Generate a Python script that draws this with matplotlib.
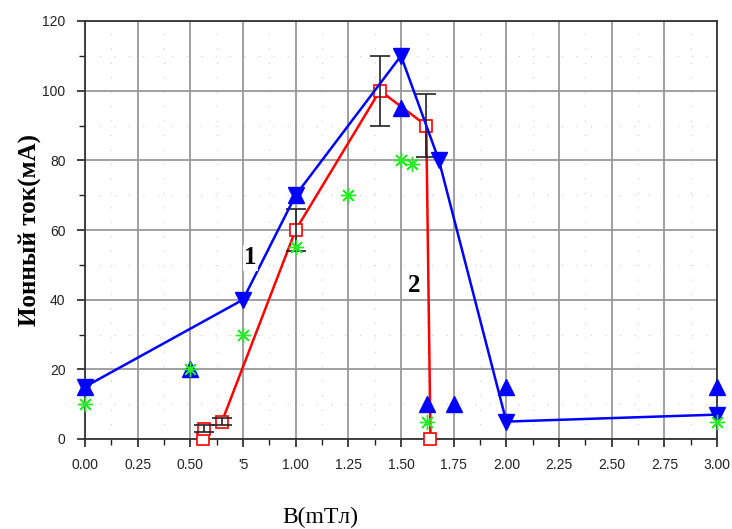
import matplotlib
matplotlib.use("Agg")
import matplotlib.pyplot as plt
from matplotlib.ticker import MultipleLocator, FixedLocator, FixedFormatter

# curve 1 (blue line, down triangles)
b_x = [0.0, 0.75, 1.0, 1.5, 1.68, 2.0, 3.0]
b_y = [15, 40, 70, 110, 80, 5, 7]

# blue up triangles (no line)
u_x = [0.0, 0.5, 1.0, 1.5, 1.625, 1.75, 2.0, 3.0]
u_y = [15, 20, 70, 95, 10, 10, 15, 15]

# curve 2 (red squares)
r_x = [0.56, 0.565, 0.65, 1.0, 1.4, 1.62, 1.64]
r_y = [0, 3, 5, 60, 100, 90, 0]

# error bars on curve 2
e_x = [0.565, 0.65, 1.0, 1.4, 1.62]
e_y = [3, 5, 60, 100, 90]
e_err = [1, 1, 6, 10, 9]

# green asterisks
g_x = [0.0, 0.5, 0.75, 1.0, 1.25, 1.5, 1.55, 1.625, 3.0]
g_y = [10, 20, 30, 55, 70, 80, 79, 5, 5]

x_ticks = [0, 0.25, 0.5, 0.75, 1.0, 1.25, 1.5, 1.75, 2.0, 2.25, 2.5, 2.75, 3.0]
x_labels = ["0.00", "0.25", "0.50", "'5", "1.00", "1.25", "1.50", "1.75",
            "2.00", "2.25", "2.50", "2.75", "3.00"]


def main():
    fig = plt.figure(figsize=(7.32, 5.29), dpi=100)
    ax = fig.add_axes([85 / 732, 1 - 439 / 529, 632 / 732, 418 / 529])

    ax.set_xlim(0, 3)
    ax.set_ylim(0, 120)

    # grids
    ax.xaxis.set_major_locator(FixedLocator(x_ticks))
    ax.xaxis.set_major_formatter(FixedFormatter(x_labels))
    ax.xaxis.set_minor_locator(MultipleLocator(0.125))
    ax.yaxis.set_major_locator(MultipleLocator(20))
    ax.yaxis.set_minor_locator(MultipleLocator(10))
    ax.grid(True, which="major", color="#999999", lw=1.3)
    ax.grid(True, which="minor", color="#cccccc", lw=0.8, ls=(0, (1, 12)))
    ax.set_axisbelow(True)

    for s in ax.spines.values():
        s.set_color("#333333")
        s.set_linewidth(1.3)

    ax.tick_params(which="major", direction="out", length=6, width=1.2,
                   labelsize=10, pad=8, colors="#222222")
    ax.tick_params(which="minor", direction="out", length=4, width=1.0,
                   colors="#222222")
    for lab in ax.get_xticklabels() + ax.get_yticklabels():
        lab.set_family("Liberation Sans")

    # red curve
    ax.plot(r_x[2:], r_y[2:], color="red", lw=1.8, zorder=3)
    ax.plot(r_x, r_y, ls="none", marker="s", ms=8, mfc="white", mec="red",
            mew=1.2, zorder=4, clip_on=False)
    ax.errorbar(e_x, e_y, yerr=e_err, fmt="none", ecolor="#222222",
                elinewidth=1.2, capsize=7, capthick=1.2, zorder=5)

    # blue curve
    ax.plot(b_x, b_y, color="blue", lw=1.8, marker="v", ms=11,
            mfc="blue", mec="blue", zorder=6, clip_on=False)
    ax.plot(u_x, u_y, ls="none", marker="^", ms=11, mfc="blue", mec="blue",
            zorder=6, clip_on=False)

    # green points
    ax.plot(g_x, g_y, ls="none", marker=(8, 2, 0), ms=11, mec="#22ee22",
            mew=1.0, zorder=7, clip_on=False)

    ax.text(0.785, 52, "1", fontsize=18, fontweight="bold",
            family="Liberation Serif", ha="center", va="center", zorder=8,
            bbox=dict(facecolor="white", edgecolor="none", pad=1))
    ax.text(1.565, 44, "2", fontsize=18, fontweight="bold",
            family="Liberation Serif", ha="center", va="center", zorder=8,
            bbox=dict(facecolor="white", edgecolor="none", pad=1))

    fig.text(30 / 732, 1 - 230 / 529, "Ионный ток(мА)", rotation=90,
             fontsize=18, fontweight="bold", family="Liberation Serif",
             ha="center", va="center")
    fig.text(320 / 732, 1 - 517 / 529, "B(mTл)", fontsize=17,
             family="Liberation Serif", ha="center", va="center")

    fig.savefig("out.png", dpi=100)


if __name__ == "__main__":
    main()
